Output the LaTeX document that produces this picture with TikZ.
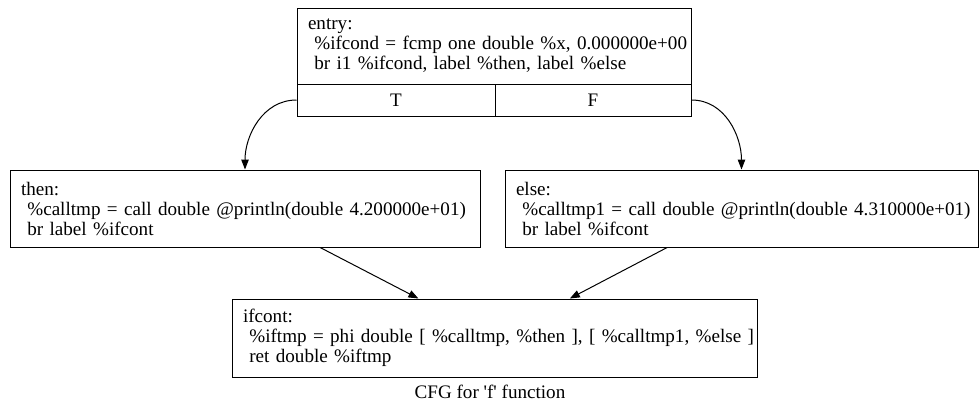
\documentclass[tikz,border=0pt]{standalone}
\usepackage{fontspec}
\newfontfamily\gvfont{Liberation Serif}
\usetikzlibrary{arrows.meta}
\begin{document}
\begin{tikzpicture}[x=1pt,y=-1pt,
  every node/.style={font=\gvfont\fontsize{19.1}{20}\selectfont},
  blk/.style={draw=black,line width=1pt,inner xsep=11pt,inner ysep=0pt,align=left,anchor=center},
  cell/.style={draw=black,line width=1pt,inner sep=0pt,anchor=center},
  arr/.style={-{Triangle[length=10pt,width=7.5pt]},line width=1pt,black}]
\useasboundingbox (0,0) rectangle (979,405);
\node[blk,minimum width=394pt,minimum height=76pt,text width=372pt] (entry) at (494,46)
  {\mbox{entry:}\\\mbox{~\%ifcond = fcmp one double \%x, 0.000000e+00}\\\mbox{~br i1 \%ifcond, label \%then, label \%else}};
\node[cell,minimum width=198pt,minimum height=32pt] (tcell) at (396,100) {T};
\node[cell,minimum width=196pt,minimum height=32pt] (fcell) at (593,100) {F};
\node[blk,minimum width=470pt,minimum height=77pt,text width=448pt] (then) at (245,208.5)
  {\mbox{then:}\\\mbox{~\%calltmp = call double @println(double 4.200000e+01)}\\\mbox{~br label \%ifcont}};
\node[blk,minimum width=473pt,minimum height=77pt,text width=451pt] (else) at (741.5,208.5)
  {\mbox{else:}\\\mbox{~\%calltmp1 = call double @println(double 4.310000e+01)}\\\mbox{~br label \%ifcont}};
\node[blk,minimum width=525pt,minimum height=78pt,text width=503pt] (ifcont) at (494.5,338)
  {\mbox{ifcont:}\\\mbox{~\%iftmp = phi double [ \%calltmp, \%then ], [ \%calltmp1, \%else ]}\\\mbox{~ret double \%iftmp}};
\node[inner sep=0pt] (cap) at (490,392) {CFG for 'f' function};
\draw[arr] (tcell.west) to[out=180,in=90] (then.north);
\draw[arr] (fcell.east) to[out=0,in=90] (else.north);
\draw[arr] (then) -- (ifcont);
\draw[arr] (else) -- (ifcont);
\end{tikzpicture}
\end{document}
